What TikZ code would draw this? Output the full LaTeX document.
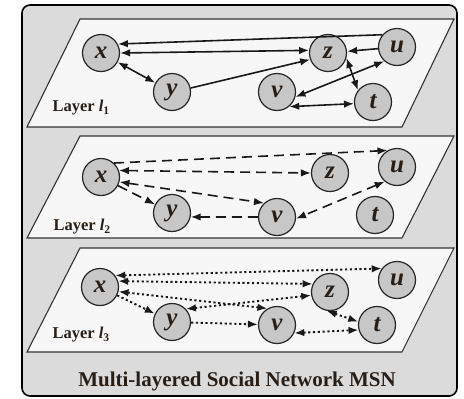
\documentclass[tikz,border=0pt]{standalone}
\usepackage{fontspec}
\setmainfont{Liberation Serif}
\usetikzlibrary{arrows.meta}
\definecolor{ink}{RGB}{40,30,22}
\tikzset{
  person/.style={circle, draw=black!85, line width=1.2pt, fill=black!22, minimum size=37pt, inner sep=0pt, text=ink, font=\fontsize{25}{25}\selectfont\bfseries\itshape},
  plane/.style={draw=black!80, line width=1.1pt, fill=black!3},
  lab/.style={anchor=west, text=ink, font=\fontsize{16.5}{16.5}\selectfont\bfseries},
  tie/.style={line width=1.6pt, draw=black!90},
  dashtie/.style={tie, dash pattern=on 10pt off 6pt},
  dottie/.style={tie, line width=1.9pt, dash pattern=on 2.2pt off 2.6pt},
  >={Latex[length=10pt,width=7.5pt]}
}

\begin{document}
\begin{tikzpicture}[x=1pt, y=-1pt]
        \useasboundingbox (0, 0) rectangle (464, 399);
        \draw[rounded corners=8pt, line width=1.6pt, fill=black!14] (22, 5) rectangle (457, 396);

        \draw[plane] (80, 19) -- (454, 19) -- (402, 127) -- (27, 127) -- cycle;
        \draw[plane] (80, 136) -- (454, 136) -- (402, 238) -- (27, 238) -- cycle;
        \draw[plane] (80, 248) -- (454, 248) -- (402, 352) -- (27, 352) -- cycle;

        \node[lab] (l1) at (49, 108) {Layer \textit{l}\textsubscript{1}};
        \node[lab] (l2) at (50, 227) {Layer \textit{l}\textsubscript{2}};
        \node[lab] (l3) at (49, 335) {Layer \textit{l}\textsubscript{3}};
        \node[text=ink, font=\fontsize{21}{21}\selectfont\bfseries] (msn) at (237, 381) {Multi-layered Social Network MSN};

        \node[person] (x1) at (101, 53) {x};
        \node[person] (y1) at (172, 92) {y};
        \node[person] (z1) at (328, 53) {z};
        \node[person] (u1) at (397, 47) {u};
        \node[person] (v1) at (277, 92) {v};
        \node[person] (t1) at (373, 102) {t};

        \node[person] (x2) at (101, 177) {x};
        \node[person] (y2) at (172, 213) {y};
        \node[person] (z2) at (330, 173) {z};
        \node[person] (u2) at (397, 167) {u};
        \node[person] (v2) at (277, 217) {v};
        \node[person] (t2) at (375, 215) {t};

        \node[person] (x3) at (100, 287) {x};
        \node[person] (y3) at (172, 322) {y};
        \node[person] (z3) at (330, 292) {z};
        \node[person] (u3) at (397, 280) {u};
        \node[person] (v3) at (277, 325) {v};
        \node[person] (t3) at (377, 325) {t};

        \draw[tie, ->] (u1.140) -- (x1.28);
        \draw[tie, <->] (x1.0) -- (z1.172);
        \draw[tie, <->] (x1) -- (y1);
        \draw[tie, ->] (y1.12) -- (z1.200);
        \draw[tie, ->] (u1) -- (z1);
        \draw[tie, <->] (z1.-15) -- (t1.142);
        \draw[tie, <->] (u1.228) -- (v1.-15);
        \draw[tie, <->] (v1.-50) -- (t1.185);

        \draw[dashtie, ->] (x2.47) -- (u2.120);
        \draw[dashtie, <->] (x2.20) -- (z2.180);
        \draw[dashtie, <->] (x2.-15) -- (v2.133);
        \draw[dashtie, ->] (x2) -- (y2);
        \draw[dashtie, ->] (v2.180) -- (y2.-12);
        \draw[dashtie, <->] (u2.230) -- (v2.-5);

        \draw[dottie, <->] (x3.37) -- (u3.143);
        \draw[dottie, <->] (x3.18) -- (z3.155);
        \draw[dottie, <->] (x3.-14) -- (v3.120);
        \draw[dottie, <->] (y3.43) -- (z3.190);
        \draw[dottie, ->] (x3) -- (y3);
        \draw[dottie, ->] (y3) -- (v3);
        \draw[dottie, <->] (v3.-25) -- (t3.195);
        \draw[dottie, <->] (z3.-100) -- (t3.170);
      \end{tikzpicture}
\end{document}
